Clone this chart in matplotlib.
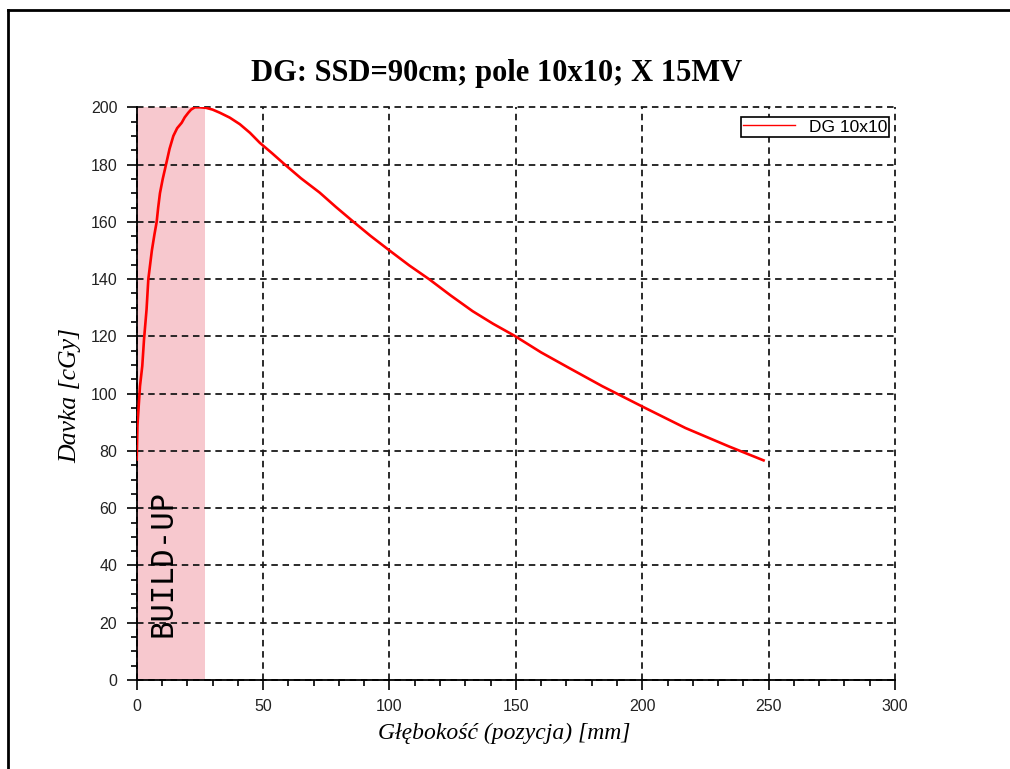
import numpy as np
import matplotlib
matplotlib.use("Agg")
import matplotlib.pyplot as plt
from matplotlib.ticker import MultipleLocator
from matplotlib.lines import Line2D

# ----------------------------
# Data
# ----------------------------
depth_mm = [0, 0.3, 1.3, 2.2, 2.9, 3.9, 4.6, 6.0, 7.0, 7.9, 8.5, 9.2, 10.3,
            11.6, 13.0, 14.5, 16.0, 17.8, 19.0, 20.4, 21.5, 23.0, 25.0, 27.5,
            30.0, 32.9, 36.8, 40.8, 44.8, 48.7, 53.5, 58.5, 65.0, 72.4, 78.8,
            85.5, 92.5, 100.0, 107.8, 115.8, 124.2, 132.9, 141.0, 149.3, 160.0,
            171.0, 184.2, 199.8, 217.1, 234.2, 248.0]
dose_cgy = [77, 89, 102.6, 109.6, 119, 129.4, 140, 150, 155.5, 160, 165, 170,
            175, 180, 185.5, 190, 192.7, 194.6, 196.5, 198.1, 199.2, 200, 200,
            199.8, 199.2, 198.1, 196.4, 194.1, 191.1, 187.6, 184.0, 180.1,
            175.2, 170.2, 165.2, 160.2, 155.1, 150.0, 144.8, 139.9, 134.3,
            128.8, 124.4, 120.3, 114.4, 109, 102.6, 95.6, 88, 81.6, 76.7]
buildup_range = [0, 27]

TITLE  = "DG: SSD=90cm; pole 10x10; X 15MV"
XLABEL = "Głębokość (pozycja) [mm]"
YLABEL = "Davka [cGy]"
LEGEND = "DG 10x10"

# ----------------------------
# Figure
# ----------------------------
W, H = 1010, 769
fig = plt.figure(figsize=(W / 100, H / 100), dpi=100)
ax = fig.add_axes([136.7 / W, 1 - 680 / H, (895 - 136.7) / W, (680 - 107.3) / H])

ax.axvspan(*buildup_range, color="#f7c8ce", lw=0, zorder=0)
ax.plot(depth_mm, dose_cgy, color="red", lw=1.9, zorder=3, label=LEGEND,
        solid_joinstyle="round")

ax.set_xlim(0, 300)
ax.set_ylim(0, 200)
ax.xaxis.set_major_locator(MultipleLocator(50))
ax.xaxis.set_minor_locator(MultipleLocator(10))
ax.yaxis.set_major_locator(MultipleLocator(20))
ax.yaxis.set_minor_locator(MultipleLocator(5))

ax.grid(True, which="major", color="#1a1a1a", lw=1.3, linestyle=(0, (3.6, 2.6)), zorder=1)
for gl in ax.get_xgridlines() + ax.get_ygridlines():
    gl.set_clip_on(False)

for s in ("top", "right"):
    ax.spines[s].set_visible(False)
for s in ("left", "bottom"):
    ax.spines[s].set_linewidth(1.3)

ax.tick_params(which="major", direction="out", length=7, width=1.2, pad=7, colors="black")
ax.tick_params(which="minor", direction="out", length=4.5, width=1.2)
for lab in ax.get_xticklabels() + ax.get_yticklabels():
    lab.set_fontfamily(["Liberation Sans", "DejaVu Sans"])
    lab.set_fontsize(11.5)
    lab.set_color("#222222")

ax.text(10.4, 15, "BUILD-UP", rotation=90, ha="center", va="bottom",
        family="DejaVu Sans Mono", fontsize=22, color="black", zorder=4)

leg = ax.legend(loc="upper right", bbox_to_anchor=(0.9925, 0.9825), borderaxespad=0,
                frameon=True, fancybox=False, framealpha=1, edgecolor="black",
                handlelength=3.0, handletextpad=0.8, borderpad=0.12,
                prop={"family": ["Liberation Sans", "DejaVu Sans"], "size": 12.5})
leg.get_frame().set_linewidth(1.2)
for h in leg.get_lines():
    h.set_linewidth(1.0)

serif = ["Liberation Serif", "DejaVu Serif"]
fig.text(497 / W, 1 - 73 / H, TITLE, ha="center", va="center",
         family=serif, fontweight="bold", fontsize=22)
fig.text(504 / W, 1 - 733 / H, XLABEL, ha="center", va="center",
         family=serif, style="italic", fontsize=17)
fig.text(70 / W, 1 - 395 / H, YLABEL, ha="center", va="center", rotation=90,
         family=serif, style="italic", fontsize=18.5)

# figure frame (left and top edges visible in reference)
fig.add_artist(Line2D([8 / W, 8 / W], [0, 1 - 10 / H], transform=fig.transFigure,
                      color="black", lw=2))
fig.add_artist(Line2D([8 / W, 1], [1 - 10 / H, 1 - 10 / H], transform=fig.transFigure,
                      color="black", lw=2))

fig.savefig("out.png", dpi=100)
